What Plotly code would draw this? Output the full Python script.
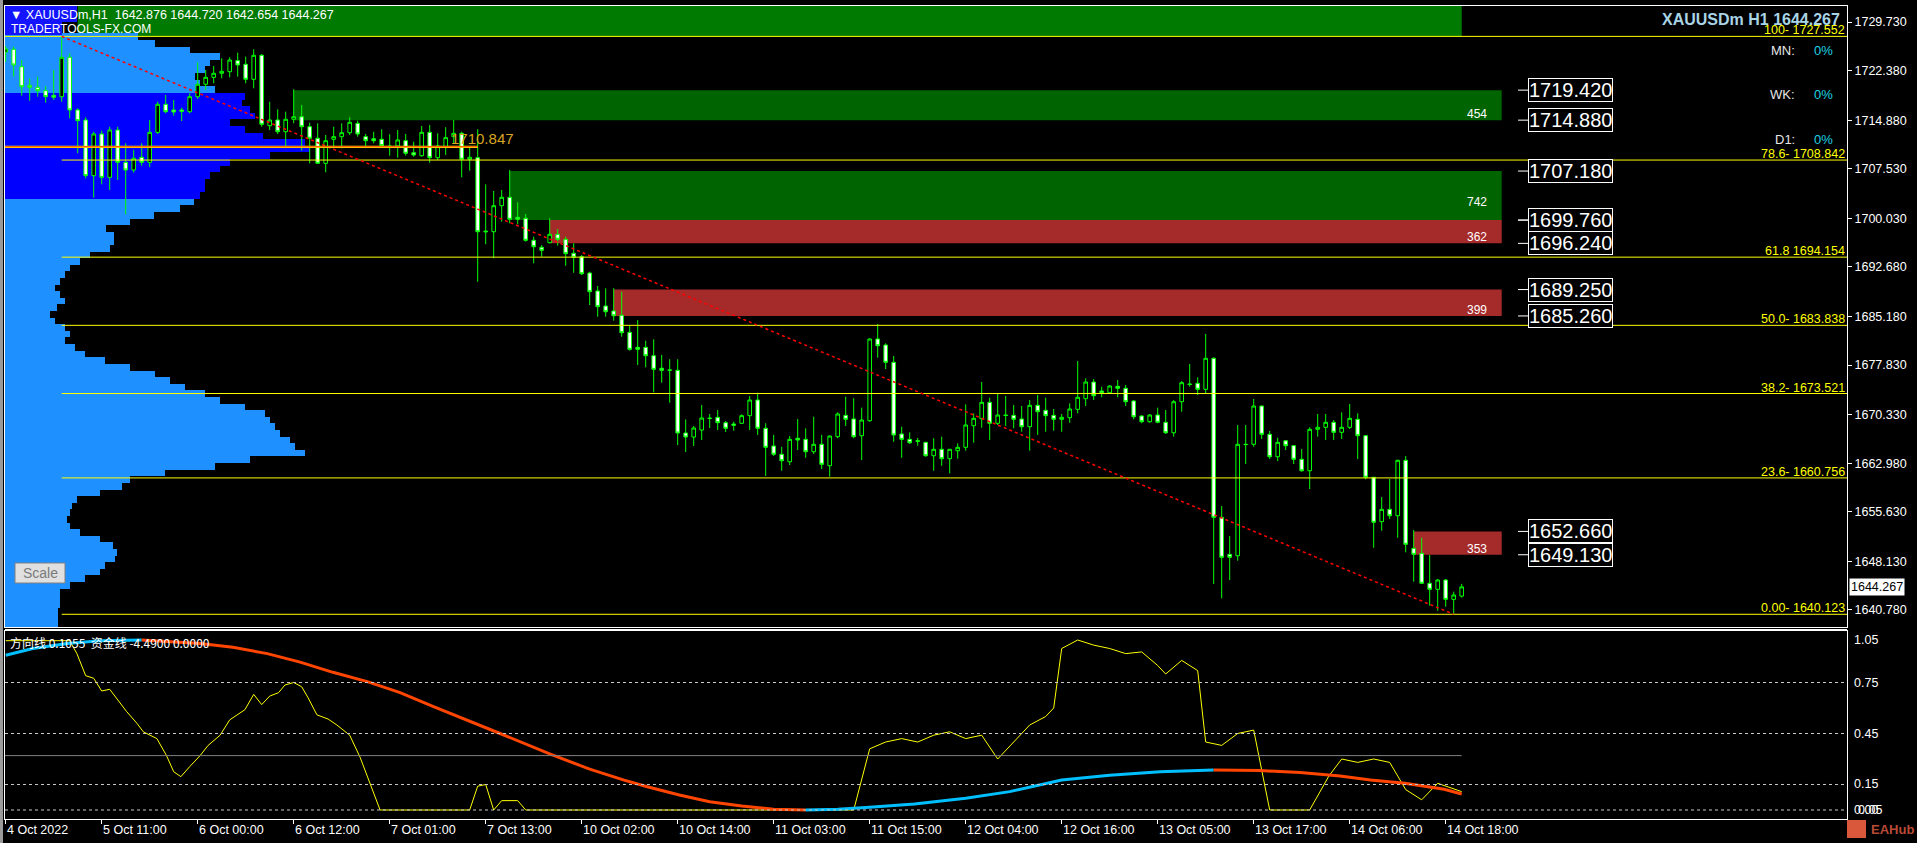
import plotly.graph_objects as go

# ---------------- DATA ----------------
opens = [1725.19,1725.60,1722.97,1720.15,1719.85,1719.34,1718.64,1718.43,1724.39,1716.42,
1714.90,1706.48,1712.79,1706.23,1713.39,1708.50,1707.34,1709.26,1708.50,1713.04,
1717.28,1716.42,1716.42,1716.16,1718.43,1720.31,1721.36,1721.97,1722.21,1723.88,
1723.33,1721.06,1724.69,1714.04,1714.90,1713.13,1715.01,1715.40,1713.89,1712.14,
1708.35,1711.98,1712.38,1712.98,1714.40,1712.38,1712.07,1711.98,1710.97,1710.97,
1711.77,1709.96,1709.50,1713.04,1709.20,1710.86,1712.38,1712.89,1708.96,1709.20,
1698.10,1698.00,1701.94,1703.21,1700.18,1700.03,1696.70,1695.64,1696.34,1697.61,
1696.85,1694.74,1694.22,1691.75,1689.03,1686.76,1686.01,1685.36,1682.78,1680.51,
1680.51,1679.24,1677.34,1677.03,1677.03,1667.55,1666.94,1668.00,1669.81,1669.92,
1669.11,1668.91,1669.02,1670.17,1672.54,1668.26,1665.58,1664.33,1663.20,1666.75,
1666.59,1664.72,1665.84,1662.60,1666.99,1670.22,1669.67,1667.14,1669.41,1681.77,
1680.86,1678.24,1667.40,1666.59,1666.38,1666.14,1664.11,1665.08,1663.66,1664.87,
1665.38,1668.65,1669.71,1672.19,1669.02,1670.27,1670.22,1669.66,1668.50,1671.74,
1670.98,1670.22,1669.62,1669.86,1671.13,1672.74,1675.26,1673.90,1673.64,1674.61,
1674.31,1672.39,1670.12,1669.26,1670.27,1669.17,1667.59,1672.28,1674.96,1675.07,
1674.16,1678.85,1654.79,1649.19,1648.98,1665.84,1665.84,1671.63,1667.35,1663.96,
1666.38,1665.63,1663.57,1661.84,1668.11,1668.41,1669.17,1667.65,1668.41,1669.62,
1667.14,1660.85,1654.13,1656.00,1655.03,1663.42,1650.10,1649.34,1644.81,1643.90,
1645.31,1642.38,1642.876]
highs = [1726.10,1726.00,1723.98,1721.21,1721.46,1720.05,1722.47,1727.552,1725.00,1716.67,
1715.31,1713.13,1713.29,1713.89,1713.89,1711.38,1710.37,1711.38,1714.90,1717.67,
1718.69,1717.93,1716.77,1718.94,1723.63,1722.47,1723.07,1724.24,1724.39,1725.09,
1724.48,1725.60,1724.89,1717.67,1716.52,1716.16,1719.55,1717.17,1714.50,1714.40,
1712.63,1713.89,1714.40,1715.31,1714.80,1712.79,1713.13,1713.50,1712.74,1713.39,
1712.79,1711.62,1713.99,1714.15,1712.89,1713.80,1714.90,1713.13,1710.97,1713.50,
1705.17,1704.16,1704.31,1707.34,1702.45,1700.68,1697.25,1695.99,1700.03,1698.41,
1697.25,1696.25,1694.48,1691.95,1689.79,1689.44,1689.44,1688.93,1683.89,1684.64,
1681.51,1681.72,1679.35,1678.70,1678.70,1669.61,1668.61,1671.79,1670.42,1671.03,
1669.36,1669.26,1670.38,1673.15,1673.65,1669.02,1667.25,1665.47,1667.09,1669.66,
1668.26,1670.01,1667.25,1667.15,1670.68,1673.04,1672.80,1671.38,1681.87,1684.04,
1681.12,1679.20,1668.50,1667.65,1666.79,1666.20,1666.75,1666.99,1665.10,1665.99,
1671.89,1670.53,1675.26,1672.89,1673.45,1673.15,1671.79,1671.63,1672.54,1673.30,
1672.89,1671.18,1670.42,1672.04,1678.44,1675.82,1675.72,1674.55,1674.76,1675.57,
1674.81,1672.54,1670.27,1670.42,1671.38,1671.03,1672.54,1675.41,1677.99,1675.97,
1682.53,1679.00,1656.50,1651.96,1668.76,1668.76,1672.69,1671.70,1667.85,1666.84,
1666.45,1665.70,1665.13,1668.41,1670.42,1670.42,1669.51,1670.68,1671.93,1670.53,
1667.20,1660.90,1657.86,1660.59,1663.50,1664.07,1652.87,1651.71,1649.09,1645.46,
1645.46,1643.54,1644.720]
lows = [1723.68,1721.46,1718.58,1717.82,1718.43,1717.52,1717.93,1717.67,1715.16,1709.87,
1706.08,1703.15,1705.17,1704.31,1705.83,1700.64,1706.93,1707.99,1707.75,1712.79,
1715.92,1715.55,1714.75,1715.92,1718.08,1719.44,1720.46,1721.21,1721.36,1721.46,
1720.46,1719.70,1713.89,1713.39,1712.79,1710.86,1714.40,1710.26,1708.35,1708.30,
1706.99,1710.62,1710.62,1712.63,1712.38,1710.86,1711.38,1710.77,1709.50,1709.20,
1709.50,1709.35,1709.35,1708.44,1708.85,1709.61,1711.38,1706.23,1707.23,1690.44,
1696.10,1693.98,1699.52,1699.27,1699.12,1696.49,1693.22,1694.22,1696.25,1695.88,
1692.86,1691.80,1691.45,1686.91,1685.14,1685.14,1684.54,1682.12,1680.00,1677.84,
1677.49,1673.70,1675.16,1672.13,1665.73,1664.67,1665.58,1666.49,1668.30,1668.00,
1667.70,1667.90,1668.91,1668.00,1667.25,1661.04,1664.07,1661.84,1662.71,1664.98,
1663.81,1664.37,1662.10,1660.94,1666.75,1668.61,1666.75,1663.46,1669.26,1678.94,
1677.23,1666.23,1663.81,1665.88,1665.63,1663.96,1661.84,1662.60,1661.45,1663.66,
1664.87,1666.08,1668.35,1666.49,1668.76,1668.61,1668.26,1667.74,1664.87,1667.25,
1667.74,1667.90,1667.74,1669.11,1670.53,1671.63,1672.54,1672.95,1673.55,1672.95,
1671.63,1669.62,1669.02,1669.11,1669.02,1667.40,1666.99,1670.77,1674.55,1673.30,
1673.55,1644.70,1642.54,1645.31,1648.23,1662.86,1665.47,1666.64,1663.61,1663.31,
1664.98,1662.86,1661.69,1659.08,1666.99,1666.49,1666.49,1666.64,1668.15,1663.61,
1660.54,1650.19,1652.76,1654.53,1651.71,1649.50,1645.05,1644.75,1641.42,1640.66,
1641.27,1640.123,1642.654]
closes = [1725.65,1723.23,1719.94,1719.85,1719.34,1718.43,1718.34,1724.39,1716.42,1714.80,
1706.48,1712.79,1706.23,1713.39,1708.50,1707.34,1709.11,1708.50,1713.04,1717.28,
1716.16,1716.11,1716.22,1718.43,1720.31,1721.36,1721.97,1722.27,1723.98,1723.23,
1721.06,1724.69,1714.25,1714.90,1713.13,1715.01,1715.40,1713.89,1712.14,1708.35,
1711.77,1712.38,1712.98,1714.56,1712.79,1711.77,1711.77,1711.02,1710.77,1711.88,
1709.87,1709.61,1713.04,1709.20,1710.97,1712.23,1712.89,1708.96,1709.26,1698.00,
1698.00,1701.94,1703.21,1699.88,1699.88,1696.70,1695.73,1695.19,1697.61,1696.85,
1694.68,1694.13,1691.65,1688.93,1686.66,1685.90,1685.29,1682.72,1680.21,1680.21,
1679.24,1677.19,1677.03,1677.08,1667.55,1666.94,1668.30,1669.81,1669.75,1669.11,
1668.26,1668.71,1670.17,1672.54,1668.26,1665.38,1664.33,1663.36,1666.59,1666.49,
1664.72,1665.84,1662.81,1667.09,1670.42,1669.62,1666.99,1669.51,1681.77,1680.75,
1678.24,1667.25,1666.59,1666.08,1666.30,1664.11,1665.08,1663.66,1665.08,1665.38,
1668.76,1669.77,1672.19,1669.02,1670.27,1670.20,1669.62,1668.50,1671.74,1670.77,
1670.17,1669.62,1669.92,1671.18,1672.95,1675.26,1673.19,1673.64,1674.66,1674.31,
1672.28,1670.01,1669.26,1670.27,1669.17,1667.59,1672.28,1675.16,1674.90,1674.16,
1678.85,1654.79,1648.74,1648.74,1665.84,1665.80,1671.63,1667.35,1663.96,1666.14,
1665.63,1663.57,1661.84,1668.11,1668.41,1669.17,1667.65,1668.41,1669.77,1667.14,
1660.85,1654.04,1656.00,1655.03,1663.42,1650.71,1649.19,1644.81,1643.90,1645.31,
1642.38,1643.04,1644.267]
bar_index = list(range(len(closes)))

x_tick_bars = [0, 12, 24, 36, 48, 60, 72, 84, 96, 108, 120, 132, 144, 156, 168, 180]
x_tick_labels = ["4 Oct 2022", "5 Oct 11:00", "6 Oct 00:00", "6 Oct 12:00", "7 Oct 01:00",
                 "7 Oct 13:00", "10 Oct 02:00", "10 Oct 14:00", "11 Oct 03:00", "11 Oct 15:00",
                 "12 Oct 04:00", "12 Oct 16:00", "13 Oct 05:00", "13 Oct 17:00", "14 Oct 06:00",
                 "14 Oct 18:00"]
price_ticks = [1729.73, 1722.38, 1714.88, 1707.53, 1700.03, 1692.68, 1685.18, 1677.83,
               1670.33, 1662.98, 1655.63, 1648.13, 1640.78]

# volume profile (price bin centres, volume)
profile_price = [1638.5 + k for k in range(90)]
profile_volume = [53,53,53,55,55,55,65,80,95,100,110,112,108,95,75,65,62,65,67,72,
                  95,117,125,160,210,245,300,290,285,275,270,265,260,240,215,200,180,165,150,125,
                  100,80,70,60,65,60,50,45,52,60,55,50,55,60,65,75,85,105,109,109,
                  101,125,149,175,189,195,200,200,205,215,225,265,305,300,258,240,225,250,245,237,
                  240,210,195,190,200,205,215,185,150,133]
va_low, va_high = 1703.0, 1719.0
poc_price = 1710.847

# fibonacci levels
fib_names = ["100-", "78.6-", "61.8", "50.0-", "38.2-", "23.6-", "0.00-"]
fib_prices = [1727.552, 1708.842, 1694.154, 1683.838, 1673.521, 1660.756, 1640.123]
fib_start_bar, fib_end_bar = 7, 181

# supply / demand zones
zone_top = [1719.420, 1707.180, 1699.760, 1689.250, 1652.660]
zone_bottom = [1714.880, 1699.760, 1696.240, 1685.260, 1649.130]
zone_start_bar = [36, 63, 68, 76, 176]
zone_kind = ["demand", "demand", "supply", "supply", "supply"]
zone_count = ["454", "742", "362", "399", "353"]
zone_end_bar = 187

# indicator
dir_bars = [0, 8, 8.9, 10, 11, 12, 13, 14, 15.1, 16.4, 17.2, 18.9, 20.1, 21, 21.9, 23, 24.3, 25.3,
            26.8, 28, 28.9, 29.9, 31, 32, 33, 34.1, 34.9, 36, 37, 37.8, 38.9, 40.3, 41.4, 43, 44.3,
            46, 46.8, 58, 59, 60, 61, 62, 64, 65, 106, 108, 110, 112, 114, 116, 118, 120, 122,
            124, 126, 128, 130, 131, 132, 134, 136, 138, 140, 142, 144, 145, 147, 148, 149, 150,
            152, 154, 156, 158, 163, 165.4, 167, 169, 171, 173, 175, 177, 179, 182]
dir_vals = [0.996, 0.996, 0.92, 0.79, 0.775, 0.70, 0.71, 0.65, 0.58, 0.51, 0.46, 0.42, 0.32, 0.225,
            0.196, 0.255, 0.32, 0.38, 0.44, 0.53, 0.56, 0.59, 0.68, 0.62, 0.67, 0.69, 0.735, 0.75,
            0.725, 0.66, 0.56, 0.535, 0.50, 0.44, 0.31, 0.10, 0.0, 0.0, 0.14, 0.15, 0.0, 0.055,
            0.055, 0.0, 0.0, 0.36, 0.40, 0.42, 0.40, 0.44, 0.46, 0.42, 0.44, 0.30, 0.40, 0.50,
            0.55, 0.60, 0.95, 1.0, 0.97, 0.95, 0.92, 0.93, 0.85, 0.80, 0.88, 0.85, 0.82, 0.40,
            0.38, 0.45, 0.47, 0.0, 0.0, 0.20, 0.30, 0.28, 0.30, 0.28, 0.12, 0.06, 0.157, 0.108]
fund_bars = [0, 3.4, 7.7, 11.8, 17, 24.3, 28.4, 32.7, 36.8, 40.9, 45.2, 49.3, 53.4, 57.7, 61.8, 68,
             73, 77.3, 80.2, 84.2, 88, 92, 96, 100, 104, 108, 113.6, 120, 125.5, 132, 138, 144.3,
             151, 156.8, 161.8, 166.8, 170.6, 174.9, 179.8, 182]
fund_vals = [0.91, 0.95, 0.98, 0.995, 1.0, 0.98, 0.957, 0.92, 0.87, 0.81, 0.755, 0.69, 0.61, 0.53,
             0.45, 0.33, 0.24, 0.176, 0.137, 0.088, 0.049, 0.024, 0.004, 0.0, 0.004, 0.016, 0.035,
             0.069, 0.108, 0.176, 0.205, 0.225, 0.235, 0.232, 0.22, 0.2, 0.176, 0.157, 0.122, 0.094]
ind_levels = [0.75, 0.45, 0.15, 0.0]
ind_ref_level = 0.32

# ---------------- LAYOUT GEOMETRY (pixels) ----------------
W, H = 1917, 843
PL, PR, PT, PB = 5, 1847, 6, 819
MAIN_BOTTOM, IND_TOP = 627, 631
BAR0_PX, BAR_STEP = 5.7, 8.0
X_LO = (PL - BAR0_PX) / BAR_STEP
X_HI = (PR - BAR0_PX) / BAR_STEP
Y_LO, Y_HI = 1638.20, 1732.15
I_LO, I_HI = -0.053, 1.053


def pxx(x):
    return (x - PL) / (PR - PL)


def pxy(y):
    return (PB - y) / (PB - PT)


def bar_of_px(x):
    return (x - BAR0_PX) / BAR_STEP


FONT = "Liberation Sans, Arial, sans-serif"
fig = go.Figure()

# volume profile (drawn on the main axes, volume scaled to bar units)
prof_colors = ["#0000FF" if va_low <= p <= va_high else "#1E90FF" for p in profile_price]
fig.add_trace(go.Bar(
    y=profile_price, x=[v / BAR_STEP for v in profile_volume], base=X_LO,
    orientation="h", width=1.0, marker=dict(color=prof_colors, line=dict(width=0)),
    hoverinfo="skip", showlegend=False, xaxis="x", yaxis="y"))

# candles
fig.add_trace(go.Candlestick(
    x=bar_index, open=opens, high=highs, low=lows, close=closes,
    increasing=dict(line=dict(color="#00FF00", width=1), fillcolor="#000000"),
    decreasing=dict(line=dict(color="#00FF00", width=1), fillcolor="#FFFFFF"),
    whiskerwidth=0, hoverinfo="skip", showlegend=False, xaxis="x", yaxis="y"))

# indicator lines
fig.add_trace(go.Scatter(x=dir_bars, y=dir_vals, mode="lines",
                         line=dict(color="#FFFF00", width=1), hoverinfo="skip",
                         showlegend=False, xaxis="x2", yaxis="y2"))

runs = []
cur = [0]
cur_dir = None
for i in range(1, len(fund_vals)):
    d = "up" if fund_vals[i] >= fund_vals[i - 1] else "down"
    if cur_dir is None or d == cur_dir:
        cur.append(i)
        cur_dir = d
    else:
        runs.append((cur_dir, cur))
        cur = [i - 1, i]
        cur_dir = d
runs.append((cur_dir, cur))
for d, idx in runs:
    fig.add_trace(go.Scatter(x=[fund_bars[i] for i in idx], y=[fund_vals[i] for i in idx],
                             mode="lines",
                             line=dict(color="#00BFFF" if d == "up" else "#FF4500", width=3),
                             hoverinfo="skip", showlegend=False, xaxis="x2", yaxis="y2"))

shapes = []
annotations = []


def note(text, x, y, xref="paper", yref="paper", xanchor="left", yanchor="middle",
         color="#FFFFFF", size=12.5, family=FONT, **kw):
    d = dict(text=text, x=x, y=y, xref=xref, yref=yref, xanchor=xanchor, yanchor=yanchor,
             showarrow=False, font=dict(color=color, size=size, family=family))
    d.update(kw)
    annotations.append(d)


# zones
for t, b, s, k in zip(zone_top, zone_bottom, zone_start_bar, zone_kind):
    shapes.append(dict(type="rect", xref="x", yref="y", x0=s, x1=zone_end_bar, y0=b, y1=t,
                       fillcolor="#006400" if k == "demand" else "#A52A2A",
                       line=dict(width=0), layer="below"))
# top green band
shapes.append(dict(type="rect", xref="x", yref="y", x0=9, x1=182,
                   y0=fib_prices[0], y1=Y_HI + 5, fillcolor="#007A00", line=dict(width=0),
                   layer="below"))
# title background
shapes.append(dict(type="rect", xref="paper", yref="paper", x0=pxx(5), x1=pxx(77),
                   y0=pxy(22), y1=pxy(6), fillcolor="#1414FF", line=dict(width=0)))
shapes.append(dict(type="rect", xref="paper", yref="paper", x0=pxx(5), x1=pxx(62),
                   y0=pxy(35), y1=pxy(22), fillcolor="#1414FF", line=dict(width=0)))

# fib lines
for n, p in zip(fib_names, fib_prices):
    x0 = X_LO if n.startswith("100") else fib_start_bar
    shapes.append(dict(type="line", xref="x", yref="y", x0=x0, x1=X_HI, y0=p, y1=p,
                       line=dict(color="#FFFF00", width=1)))
    note(f"{n} {p:.3f}", pxx(1846), p, yref="y", xanchor="right", yanchor="bottom",
         color="#FFFF00", size=12.5, borderpad=0, yshift=-2)
# fib trend line
shapes.append(dict(type="line", xref="x", yref="y", x0=fib_start_bar, x1=fib_end_bar,
                   y0=fib_prices[0], y1=fib_prices[-1],
                   line=dict(color="#FF0000", width=1.5, dash="3px,3px")))
# POC line
shapes.append(dict(type="line", xref="x", yref="y", x0=X_LO, x1=59, y0=poc_price, y1=poc_price,
                   line=dict(color="#FFFF00", width=2.2)))
shapes.append(dict(type="line", xref="x", yref="y", x0=X_LO, x1=59, y0=poc_price, y1=poc_price,
                   line=dict(color="#FF2000", width=1)))
note(f"{poc_price:.3f}", bar_of_px(449), poc_price, xref="x", yref="y", yanchor="bottom",
     color="#DAA520", size=15, yshift=-2)

# zone price boxes and counts
label_shift = [-3, 9, -3, -3, -3]
for t, b, c, sh in zip(zone_top, zone_bottom, zone_count, label_shift):
    for p in (t, b):
        shapes.append(dict(type="line", xref="paper", yref="y", x0=pxx(1518), x1=pxx(1528),
                           y0=p, y1=p, line=dict(color="#FFFFFF", width=1)))
        note(f"{p:.3f}", pxx(1528), p, yref="y", size=20, bgcolor="#000000",
             bordercolor="#FFFFFF", borderwidth=1, borderpad=0)
    note(c, bar_of_px(1477), b, xref="x", yref="y", xanchor="center", yanchor="bottom",
         size=12, yshift=sh)

# indicator reference lines
for lv in ind_levels:
    shapes.append(dict(type="line", xref="paper", yref="y2", x0=0, x1=1, y0=lv, y1=lv,
                       line=dict(color="#C8C8C8", width=1, dash="3px,3px")))
shapes.append(dict(type="line", xref="x2", yref="y2", x0=X_LO, x1=182, y0=ind_ref_level,
                   y1=ind_ref_level, line=dict(color="#808080", width=1)))

# "Scale" button
shapes.append(dict(type="rect", xref="paper", yref="paper", x0=pxx(15), x1=pxx(65),
                   y0=pxy(583), y1=pxy(563), fillcolor="#E0E0E0",
                   line=dict(color="#808080", width=1)))
note("Scale", pxx(40), pxy(573), xanchor="center", color="#7A7A7A", size=14)

# window frame left edge + separator
shapes.append(dict(type="rect", xref="paper", yref="paper", x0=pxx(0), x1=pxx(3),
                   y0=pxy(843), y1=pxy(0), fillcolor="#9A9A9A", line=dict(width=0)))
shapes.append(dict(type="line", xref="paper", yref="paper", x0=0, x1=1,
                   y0=pxy(629.5), y1=pxy(629.5), line=dict(color="#FFFFFF", width=1)))

# EAHub mark
shapes.append(dict(type="rect", xref="paper", yref="paper", x0=pxx(1847), x1=pxx(1866),
                   y0=pxy(838), y1=pxy(820), fillcolor="#D9583B", line=dict(width=0)))
note("<b>EAHub</b>", pxx(1869), pxy(829), color="#B84A35", size=13)

# header texts
note("\u25bc XAUUSDm,H1  1642.876 1644.720 1642.654 1644.267", pxx(8), pxy(15), size=12.5)
note("TRADERTOOLS-FX.COM", pxx(9), pxy(29), size=12)
note("<b>XAUUSDm H1 1644.267</b>", pxx(1842), pxy(20), xanchor="right", color="#A9D3E6",
     size=16)
for lbl, yy in (("MN:", 50), ("WK:", 95), ("D1:", 139)):
    note(lbl, pxx(1797), pxy(yy), xanchor="right", color="#E6E6E6", size=13)
    note("0%", pxx(1812), pxy(yy), color="#1ED3E3", size=13)

# current price tag
note(f"{closes[-1]:.3f}", pxx(1849), closes[-1], yref="y", color="#000000", size=12.5,
     bgcolor="#FFFFFF", borderpad=1)

# indicator header
note("方向线 0.1055  资金线 -4.4900 0.0000", pxx(8), pxy(642), size=12,
     family="Noto Sans CJK SC, Liberation Sans")
# indicator axis labels
for txt, lv, xx in (("1.05", 1.0, 1852), ("0.75", 0.75, 1852), ("0.45", 0.45, 1852),
                    ("0.15", 0.15, 1852), ("0.00", 0.0, 1852), ("0.05", 0.0, 1856)):
    note(txt, pxx(xx), lv, yref="y2", size=12.5)

# x labels
for b, t in zip(x_tick_bars, x_tick_labels):
    note(t, pxx(BAR0_PX + b * BAR_STEP - 1), pxy(830), size=12.5)

axis_common = dict(showgrid=False, zeroline=False, showline=True, linecolor="#FFFFFF",
                   linewidth=1, mirror=True)
fig.update_layout(
    width=W, height=H,
    margin=dict(l=PL, r=W - PR, t=PT, b=H - PB, pad=0),
    paper_bgcolor="#000000", plot_bgcolor="#000000",
    font=dict(family=FONT, color="#FFFFFF"),
    showlegend=False, hovermode=False, bargap=0, boxgap=0.35,
    xaxis=dict(domain=[0, 1], range=[X_LO, X_HI], anchor="y", showticklabels=False, ticks="",
               rangeslider=dict(visible=False), **axis_common),
    yaxis=dict(domain=[pxy(MAIN_BOTTOM), 1], range=[Y_LO, Y_HI], side="right", anchor="x",
               tickvals=price_ticks, ticktext=[f"{v:.3f}" for v in price_ticks],
               ticks="outside", ticklen=4, tickcolor="#FFFFFF",
               tickfont=dict(color="#FFFFFF", size=12.5, family=FONT), **axis_common),
    xaxis2=dict(domain=[0, 1], range=[X_LO, X_HI], anchor="y2", matches="x",
                showticklabels=False, ticks="outside", ticklen=4, tickcolor="#FFFFFF",
                tickvals=x_tick_bars, rangeslider=dict(visible=False), **axis_common),
    yaxis2=dict(domain=[0, pxy(IND_TOP)], range=[I_LO, I_HI], side="right", anchor="x2",
                showticklabels=False, ticks="", **axis_common),
    shapes=shapes, annotations=annotations,
)

fig.write_html("out.html", config={"displayModeBar": False},
               post_script="document.body.style.margin='0';document.body.style.background='#000';"
                           "document.body.style.overflow='hidden';")
